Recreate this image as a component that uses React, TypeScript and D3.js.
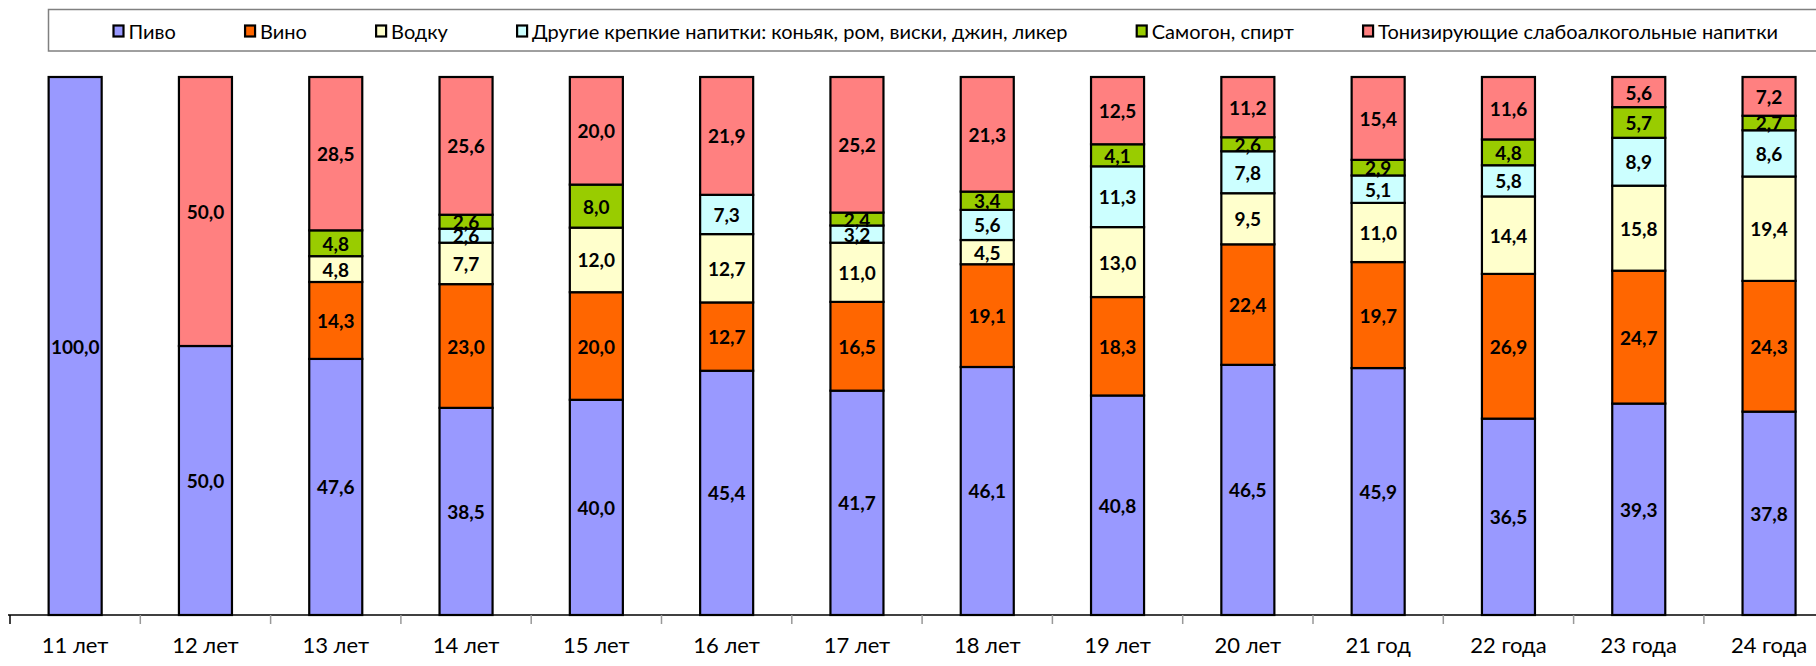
import React, { useEffect, useRef } from "react";
import * as d3 from "d3";

const categories = [
  "11 лет", "12 лет", "13 лет", "14 лет", "15 лет", "16 лет", "17 лет",
  "18 лет", "19 лет", "20 лет", "21 год", "22 года", "23 года", "24 года",
];

const seriesNames = [
  "Пиво",
  "Вино",
  "Водку",
  "Другие крепкие напитки: коньяк, ром, виски, джин, ликер",
  "Самогон, спирт",
  "Тонизирующие слабоалкогольные напитки",
];

const seriesColors = ["#9999FF", "#FF6600", "#FFFFCC", "#CCFFFF", "#99CC00", "#FF8080"];

const beer = [100.0, 50.0, 47.6, 38.5, 40.0, 45.4, 41.7, 46.1, 40.8, 46.5, 45.9, 36.5, 39.3, 37.8];
const wine = [0, 0, 14.3, 23.0, 20.0, 12.7, 16.5, 19.1, 18.3, 22.4, 19.7, 26.9, 24.7, 24.3];
const vodka = [0, 0, 4.8, 7.7, 12.0, 12.7, 11.0, 4.5, 13.0, 9.5, 11.0, 14.4, 15.8, 19.4];
const otherStrong = [0, 0, 0, 2.6, 0, 7.3, 3.2, 5.6, 11.3, 7.8, 5.1, 5.8, 8.9, 8.6];
const moonshine = [0, 0, 4.8, 2.6, 8.0, 0, 2.4, 3.4, 4.1, 2.6, 2.9, 4.8, 5.7, 2.7];
const tonic = [0, 50.0, 28.5, 25.6, 20.0, 21.9, 25.2, 21.3, 12.5, 11.2, 15.4, 11.6, 5.6, 7.2];

const seriesValues = [beer, wine, vodka, otherStrong, moonshine, tonic];

const W = 1816;
const H = 666;

const App = () => {
  const ref = useRef<SVGSVGElement | null>(null);

  useEffect(() => {
    const svg = d3.select(ref.current);
    svg.selectAll("*").remove();

    const font = "Lato, 'Open Sans', sans-serif";

    // plot area (the original is cropped on the right)
    const left = 10, step = 130.3;
    const x = d3.scaleBand<string>()
      .domain(categories)
      .range([left, left + step * categories.length])
      .paddingInner(0.593)
      .paddingOuter(0.2965);
    const y = d3.scaleLinear().domain([0, 100]).range([615, 77]);

    const rows = categories.map((c, i) => {
      const r: any = { cat: c };
      seriesNames.forEach((s, k) => (r[s] = seriesValues[k][i]));
      return r;
    });
    const stacked = d3.stack<any>().keys(seriesNames)(rows);

    // axis line + ticks
    const axis = svg.append("g");
    axis.append("line")
      .attr("x1", 8).attr("x2", W)
      .attr("y1", y(0)).attr("y2", y(0))
      .attr("stroke", "#000").attr("stroke-width", 1.5);
    d3.range(categories.length + 1).forEach((i) => {
      const tx = left + i * x.step();
      axis.append("line")
        .attr("x1", tx).attr("x2", tx)
        .attr("y1", y(0)).attr("y2", y(0) + 9)
        .attr("stroke", i === 0 ? "#000" : "#999").attr("stroke-width", 1.5);
    });
    axis.selectAll("text.cat")
      .data(categories)
      .enter().append("text")
      .attr("x", (d) => x(d)! + x.bandwidth() / 2)
      .attr("y", 644)
      .attr("text-anchor", "middle")
      .attr("dominant-baseline", "central")
      .attr("font-family", font)
      .attr("font-size", 22)
      .text((d) => d);

    // bars
    stacked.forEach((layer, k) => {
      const g = svg.append("g");
      layer.forEach((seg, i) => {
        if (seg[1] - seg[0] <= 0) return;
        g.append("rect")
          .attr("x", x(categories[i])!)
          .attr("y", y(seg[1]))
          .attr("width", x.bandwidth())
          .attr("height", y(seg[0]) - y(seg[1]))
          .attr("fill", seriesColors[k])
          .attr("stroke", "#000")
          .attr("stroke-width", 2.2);
      });
    });

    // labels
    stacked.forEach((layer) => {
      layer.forEach((seg, i) => {
        const v = seg[1] - seg[0];
        if (v <= 0) return;
        svg.append("text")
          .attr("x", x(categories[i])! + x.bandwidth() / 2)
          .attr("y", y((seg[0] + seg[1]) / 2))
          .attr("text-anchor", "middle")
          .attr("dominant-baseline", "central")
          .attr("font-family", font)
          .attr("font-weight", "bold")
          .attr("font-size", 19)
          .text(d3.format(".1f")(v).replace(".", ","));
      });
    });

    // legend
    const lg = svg.append("g");
    lg.append("rect")
      .attr("x", 48.5).attr("y", 9.5)
      .attr("width", W).attr("height", 41.5)
      .attr("fill", "#fff")
      .attr("stroke", "#808080").attr("stroke-width", 1.5);
    const items = seriesNames.map((name, k) => {
      const it = lg.append("g");
      it.append("rect")
        .attr("x", 0).attr("y", -5.5)
        .attr("width", 10).attr("height", 11)
        .attr("fill", seriesColors[k])
        .attr("stroke", "#000").attr("stroke-width", 2.2);
      const t = it.append("text")
        .attr("x", 15).attr("y", 0)
        .attr("dominant-baseline", "central")
        .attr("font-family", font)
        .attr("font-size", 20)
        .text(name);
      const w = 15 + (t.node() as SVGTextElement).getComputedTextLength();
      return { it, w };
    });
    const startX = 113.5, endX = 1778;
    const total = d3.sum(items, (d) => d.w);
    const gap = (endX - startX - total) / (items.length - 1);
    let cx = startX;
    items.forEach(({ it, w }) => {
      it.attr("transform", `translate(${cx},31)`);
      cx += w + gap;
    });
  }, []);

  return (
    <div style={{ position: "absolute", left: 0, top: 0 }}>
      <svg ref={ref} width={W} height={H} style={{ display: "block", background: "#fff" }} />
    </div>
  );
};

export default App;
